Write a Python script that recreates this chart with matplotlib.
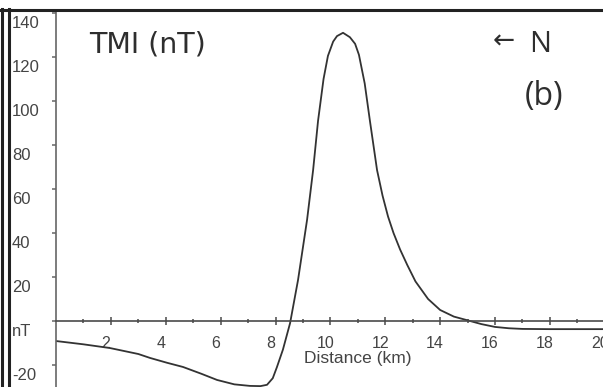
import matplotlib
matplotlib.use('Agg')
from matplotlib import pyplot as plt
from matplotlib.lines import Line2D
from matplotlib.transforms import ScaledTranslation

# TMI profile (distance in km, anomaly in nT)
distance = [0.0, 1.0, 1.97, 3.0, 3.43, 4.05, 4.63, 5.3, 5.87, 6.5, 7.07, 7.45,
            7.69, 7.9, 8.05, 8.27, 8.53, 8.82, 9.15, 9.37, 9.55, 9.75, 9.91, 10.1,
            10.24, 10.46, 10.71, 10.9, 11.04, 11.25, 11.44, 11.7, 11.9, 12.1,
            12.3, 12.54, 12.8, 13.1, 13.56, 14.0, 14.5, 15.09, 15.5, 16.0, 16.5,
            17.0, 18.0, 20.6]
tmi = [-9.1, -10.6, -12.3, -15.0, -16.8, -19.0, -20.9, -24.0, -26.8, -28.8, -29.5, -29.6,
       -29.0, -26.0, -21.0, -13.0, -1.0, 18.6, 46.0, 68.6, 91.0, 110.0, 120.5, 127.0,
       129.5, 131.0, 129.0, 126.0, 121.0, 108.0, 91.0, 68.6, 57.0, 47.5,
       40.0, 32.5, 25.5, 18.0, 10.0, 5.0, 2.0, 0.0, -1.4, -2.7, -3.3,
       -3.6, -3.7, -3.7]

x_major = [2, 4, 6, 8, 10, 12, 14, 16, 18, 20]
x_minor = [1, 3, 5, 7, 9, 11, 13, 15, 17, 19]
x_labels = ['2', '4', '6', '8', '10', '12', '14', '16', '18', '20']
y_major = [-20, 0, 20, 40, 60, 80, 100, 120, 140]
y_labels = ['-20', 'nT', '20', '40', '60', '80', '100', '120', '140']

W, H = 603, 387
px0, kx = 56, 27.44      # pixel of x=0, pixels per km
py0, ky = 321, 2.2       # pixel of y=0, pixels per nT
xmax = 20.6
ymin, ymax = -31, 141

fig = plt.figure(figsize=(W / 100, H / 100), dpi=100)
top_px = py0 - ymax * ky
bot_px = py0 - ymin * ky
ax = fig.add_axes([px0 / W, 1 - bot_px / H, xmax * kx / W, (bot_px - top_px) / H])
ax.set_xlim(0, xmax)
ax.set_ylim(ymin, ymax)

ax.plot(distance, tmi, color='#333333', lw=1.3, solid_joinstyle='round')

for s in ['top', 'right']:
    ax.spines[s].set_visible(False)
ax.spines['bottom'].set_position(('data', 0))
ax.spines['bottom'].set_color('#4a4a4a')
ax.spines['bottom'].set_linewidth(1.2)
ax.spines['left'].set_color('#666666')
ax.spines['left'].set_linewidth(1.2)

narrow = ['Liberation Sans Narrow', 'Liberation Sans', 'DejaVu Sans']

ax.set_xticks(x_major)
ax.set_xticks(x_minor, minor=True)
ax.set_xticklabels(x_labels, family=narrow, fontsize=11.5, color='#444444')
ax.set_yticks(y_major)
ax.set_yticklabels(y_labels, family=narrow, fontsize=12, color='#444444')

ax.tick_params(axis='x', which='major', direction='inout', length=6, width=1.1,
               color='#4a4a4a', pad=8)
ax.tick_params(axis='x', which='minor', direction='inout', length=3.5, width=1.1,
               color='#4a4a4a')
ax.tick_params(axis='y', which='major', direction='out', length=3, width=1.1,
               color='#666666', pad=28.7)

# shift labels the way the scanned figure has them
for lab in ax.get_xticklabels():
    lab.set_transform(lab.get_transform() + ScaledTranslation(-5 / 100, 0, fig.dpi_scale_trans))
for lab in ax.get_yticklabels():
    lab.set_horizontalalignment('left')
    lab.set_verticalalignment('center')
    lab.set_transform(lab.get_transform() + ScaledTranslation(0, -11 / 100, fig.dpi_scale_trans))

ax.text(11.0, -17, 'Distance (km)', ha='center', va='center',
        family=['Liberation Sans', 'DejaVu Sans'], fontsize=12.5, color='#444444')

fig.text(89 / W, 1 - 53 / H, 'TMI (nT)', ha='left', va='baseline',
         family='DejaVu Sans', fontsize=20.5, color='#2e2e2e')
fig.text(493 / W, 1 - 42 / H, '\u2190', ha='left', va='center',
         family='DejaVu Sans', fontsize=19, color='#2e2e2e')
fig.text(529 / W, 1 - 52 / H, 'N', ha='left', va='baseline',
         family=['Open Sans', 'DejaVu Sans'], fontsize=21, color='#2e2e2e')
fig.text(544 / W, 1 - 96 / H, '(b)', ha='center', va='center',
         family=['Open Sans', 'DejaVu Sans'], fontsize=23, color='#2e2e2e')

# frame of the scanned panel
fig.add_artist(Line2D([0, 1], [1 - 10 / H, 1 - 10 / H], color='#222222', lw=2.2))
fig.add_artist(Line2D([1.5 / W, 1.5 / W], [0, 1 - 9 / H], color='#222222', lw=2.2))
fig.add_artist(Line2D([8.5 / W, 8.5 / W], [0, 1 - 9 / H], color='#222222', lw=2.2))

fig.savefig('out.png', dpi=100)
